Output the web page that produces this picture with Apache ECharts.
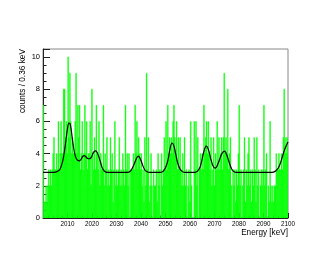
<!DOCTYPE html>
<html><head><meta charset="utf-8">
<script src="https://cdn.jsdelivr.net/npm/echarts@6/dist/echarts.min.js"></script>
<style>html,body{margin:0;padding:0;background:#fff}#c{width:330px;height:255px}</style>
</head><body><div id="c"></div>
<script>
const binStart = 2000;
const binWidth = 0.36;
const counts = [
7,1,1,2,1,2,3,2,3,2,3,4,5,3,3,4,3,6,3,4,6,4,4,8,8,5,6,4,
10,5,9,6,4,5,4,4,6,9,4,7,5,7,3,4,6,3,4,7,4,6,3,4,4,6,2,8,
4,3,5,3,7,4,3,6,2,4,3,3,7,2,4,3,5,2,3,2,5,3,4,1,3,6,2,3,
2,3,5,2,3,2,4,3,2,7,3,4,2,4,0,3,3,3,4,3,7,4,6,3,5,4,3,4,
2,3,1,5,2,9,3,5,1,2,4,2,0,3,2,2,3,1,4,2,3,0,4,2,3,5,3,6,
3,7,4,5,4,5,4,6,7,5,4,6,3,5,3,5,3,2,4,2,5,2,3,0,2,3,1,6,
2,0,0,6,3,6,2,5,0,3,4,3,4,3,7,4,5,6,4,6,4,3,5,2,3,5,2,4,
3,6,3,5,3,4,5,3,5,9,4,5,4,8,3,4,5,2,0,3,2,3,1,3,2,4,7,2,
3,0,2,3,5,1,3,2,4,5,2,3,1,3,2,5,3,1,5,2,3,0,2,3,2,3,7,2,
3,4,0,2,1,6,2,1,2,1,2,2,4,3,3,4,3,3,4,3,5,8,4,5,4,5
];
const fitE = [2000,2002,2004,2005,2006,2007,2008,2008.5,2009,2009.5,
2010,2010.5,2011,2011.5,2012,2012.5,2013,2013.5,2014,2014.8,
2015.5,2016.2,2016.8,2017.5,2018.2,2019,2019.8,2020.5,2021.3,2022,
2022.8,2023.5,2024.2,2025,2026,2030,2035,2036,2037,2038,
2038.8,2039.6,2040.5,2041.5,2042.5,2043.5,2046,2048,2049,2050,2051,
2051.8,2052.6,2053.4,2054.2,2055,2056,2057,2058,2062,2063,2064,
2064.8,2065.6,2066.6,2067.6,2068.5,2069.5,2070.3,2071,2072,2073,
2074.1,2075,2076,2077,2078,2079,2085,2093.5,2094.5,2095.5,2096.5,
2097.5,2098.5,2099.3,2100];
const fitV = [2.83,2.83,2.83,2.85,2.9,3.05,3.5,3.9,4.4,5.0,
5.55,5.9,5.88,5.5,4.9,4.35,3.95,3.72,3.6,3.55,
3.65,3.82,3.87,3.8,3.7,3.68,3.8,4.05,4.17,4.1,
3.8,3.45,3.1,2.92,2.84,2.83,2.85,2.98,3.28,3.65,
3.85,3.72,3.35,3.0,2.87,2.83,2.83,2.84,2.9,3.12,3.6,
4.25,4.66,4.5,3.95,3.4,3.02,2.88,2.84,2.84,2.9,3.12,
3.55,4.1,4.46,4.22,3.65,3.2,3.1,3.22,3.6,4.0,
4.15,3.92,3.45,3.05,2.88,2.84,2.83,2.84,2.88,3.0,3.25,
3.7,4.2,4.5,4.72];
const xTitle = 'Energy [keV]';
const yTitle = 'counts / 0.36 keV';

const histData = counts.map((v, i) => [binStart + i * binWidth, binStart + (i + 1) * binWidth, v]);
const fitData = fitE.map((e, i) => [e, fitV[i]]);
const FONT = '"Liberation Sans", Arial, sans-serif';

const chart = echarts.init(document.getElementById('c'), null, {renderer: 'canvas'});
chart.setOption({
  animation: false,
  backgroundColor: '#fff',
  grid: {left: 43, right: 42, top: 49, bottom: 37, show: true, borderColor: '#888', borderWidth: 1, backgroundColor: 'transparent'},
  xAxis: {
    type: 'value', min: 2000, max: 2100, interval: 10,
    axisLine: {show: true, lineStyle: {color: '#222', width: 1}},
    axisTick: {show: true, inside: true, length: 5, lineStyle: {color: '#222'}},
    minorTick: {show: true, splitNumber: 5, length: 2.5, lineStyle: {color: '#222'}},
    axisLabel: {showMinLabel: false, color: '#000', fontSize: 6.3, fontFamily: FONT, margin: 3,
                formatter: function (v) { return String(v); }},
    splitLine: {show: false}
  },
  yAxis: {
    type: 'value', min: 0, max: 10.5, interval: 2,
    axisLine: {show: true, lineStyle: {color: '#222', width: 1}},
    axisTick: {show: true, inside: true, length: 7, lineStyle: {color: '#222'}},
    minorTick: {show: true, splitNumber: 4, length: 3.5, lineStyle: {color: '#222'}},
    axisLabel: {showMaxLabel: false, color: '#000', fontSize: 7.5, fontFamily: FONT, margin: 3},
    splitLine: {show: false}
  },
  graphic: [
    {type: 'text', x: 23, y: 49, rotation: Math.PI / 2,
     style: {text: yTitle, fill: '#000', font: '8.3px ' + FONT, align: 'right', verticalAlign: 'middle'}},
    {type: 'text', x: 288, y: 233,
     style: {text: xTitle, fill: '#000', font: '8.2px ' + FONT, align: 'right', verticalAlign: 'middle'}}
  ],
  series: [
    {
      type: 'custom', clip: true, z: 2,
      data: histData,
      renderItem: function (params, api) {
        const p0 = api.coord([api.value(0), 0]);
        const p1 = api.coord([api.value(1), api.value(2)]);
        return {type: 'rect', shape: {x: p0[0], y: p1[1], width: p1[0] - p0[0], height: p0[1] - p1[1]},
                style: {fill: '#00ff00', stroke: '#00ff00', lineWidth: 0.4}};
      }
    },
    {
      type: 'line', z: 3, data: fitData, smooth: 0.3, showSymbol: false, symbol: 'none',
      lineStyle: {color: '#000', width: 1.2}
    }
  ]
});
</script></body></html>
